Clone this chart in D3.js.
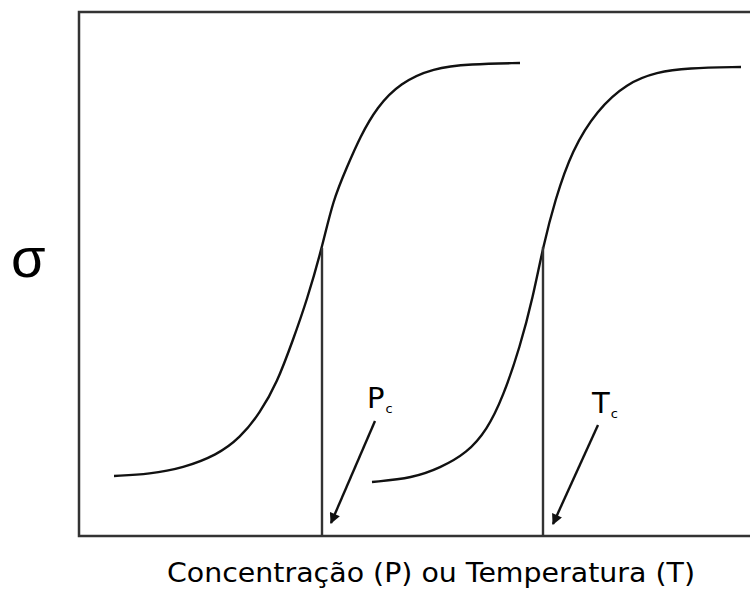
<!DOCTYPE html>
<html>
<head>
<meta charset="utf-8">
<script src="https://cdn.jsdelivr.net/npm/d3@7"></script>
<style>
  html, body { margin: 0; padding: 0; background: #fff; }
  svg { display: block; }
</style>
</head>
<body>
<svg id="chart" width="750" height="590"></svg>
<script>
// curve values (arbitrary units, x 0..67.1, sigma 0..52.4)
const curveP_x = [3.5, 7.1, 10.4, 13.8, 16.1, 18.1, 19.8, 21.4, 22.8, 24.3, 25.4, 26.8, 28.1, 29.8, 32.1, 35.4, 39.1, 44.1];
const curveP_y = [6.0, 6.2, 6.8, 8.1, 9.8, 12.3, 15.3, 19.6, 23.6, 28.8, 33.6, 36.9, 39.9, 42.9, 45.3, 46.8, 47.2, 47.3];
const curveT_x = [29.3, 33.4, 36.1, 38.8, 40.8, 42.4, 44.1, 45.4, 46.4, 47.6, 49.3, 51.8, 54.8, 57.8, 60.8, 66.2];
const curveT_y = [5.4, 5.8, 6.8, 8.3, 10.6, 13.9, 18.9, 23.9, 28.9, 33.6, 38.6, 42.6, 45.3, 46.4, 46.8, 46.9];

// critical points (vertical markers)
const critNames = ["P", "T"];
const critX = [24.3, 46.4];
const critY = [28.8, 28.9];

// arrows: start -> end
const arrowX0 = [29.6, 51.9];
const arrowY0 = [11.5, 11.1];
const arrowX1 = [25.2, 47.4];
const arrowY1 = [1.3, 1.2];
const labelX = [28.8, 51.3];
const labelY = [12.8, 12.3];

const xLabel = "Concentração (P) ou Temperatura (T)";
const yLabel = "σ";

window.addEventListener("load", draw);
function draw() {
  const svg = d3.select("#chart");
  const m = { left: 79, top: 12, right: 0, bottom: 54 };
  const W = 750, H = 590;

  const x = d3.scaleLinear().domain([0, 67.1]).range([m.left, W - m.right]);
  const y = d3.scaleLinear().domain([0, 52.4]).range([H - m.bottom, m.top]);

  svg.append("defs").append("marker")
    .attr("id", "head")
    .attr("viewBox", "0 0 10 10")
    .attr("refX", 9).attr("refY", 5)
    .attr("markerWidth", 5).attr("markerHeight", 4.5)
    .attr("orient", "auto")
    .append("path")
    .attr("d", "M0,0 L10,5 L0,10 z")
    .attr("fill", "#111");

  // frame (open on the right, cut by the page edge)
  svg.append("rect")
    .attr("x", x(0)).attr("y", y(52.4))
    .attr("width", W - m.left + 20)
    .attr("height", y(0) - y(52.4))
    .attr("fill", "none")
    .attr("stroke", "#333")
    .attr("stroke-width", 2.5);

  const line = d3.line()
    .x(d => x(d[0])).y(d => y(d[1]))
    .curve(d3.curveBasis);

  const series = [
    d3.zip(curveP_x, curveP_y),
    d3.zip(curveT_x, curveT_y)
  ];

  svg.selectAll("path.curve")
    .data(series)
    .join("path")
    .attr("class", "curve")
    .attr("d", line)
    .attr("fill", "none")
    .attr("stroke", "#111")
    .attr("stroke-width", 2.4);

  // vertical markers at Pc / Tc
  svg.selectAll("line.crit")
    .data(critX)
    .join("line")
    .attr("class", "crit")
    .attr("x1", d => x(d)).attr("x2", d => x(d))
    .attr("y1", (d, i) => y(critY[i])).attr("y2", y(0))
    .attr("stroke", "#333")
    .attr("stroke-width", 2.4);

  // arrows
  svg.selectAll("line.arrow")
    .data(arrowX0)
    .join("line")
    .attr("class", "arrow")
    .attr("x1", d => x(d)).attr("y1", (d, i) => y(arrowY0[i]))
    .attr("x2", (d, i) => x(arrowX1[i])).attr("y2", (d, i) => y(arrowY1[i]))
    .attr("stroke", "#111")
    .attr("stroke-width", 2.4)
    .attr("marker-end", "url(#head)");

  // Pc / Tc labels
  const lab = svg.selectAll("text.crit")
    .data(critNames)
    .join("text")
    .attr("class", "crit")
    .attr("x", (d, i) => x(labelX[i]))
    .attr("y", (d, i) => y(labelY[i]))
    .attr("font-family", "DejaVu Sans, Verdana, sans-serif")
    .attr("font-size", 29)
    .attr("fill", "#000");
  lab.append("tspan").text(d => d);
  lab.append("tspan").attr("font-size", 13).attr("dy", 5).attr("dx", 1).text("c");

  // axis titles
  svg.append("text")
    .attr("x", 11).attr("y", 277)
    .attr("font-family", "Liberation Sans, Arial, sans-serif")
    .attr("font-size", 56)
    .attr("fill", "#000")
    .text(yLabel);

  svg.append("text")
    .attr("x", 167).attr("y", 582)
    .attr("font-family", "DejaVu Sans, Verdana, sans-serif")
    .attr("font-size", 26)
    .attr("textLength", 528)
    .attr("lengthAdjust", "spacingAndGlyphs")
    .attr("fill", "#000")
    .text(xLabel);
}
</script>
</body>
</html>
